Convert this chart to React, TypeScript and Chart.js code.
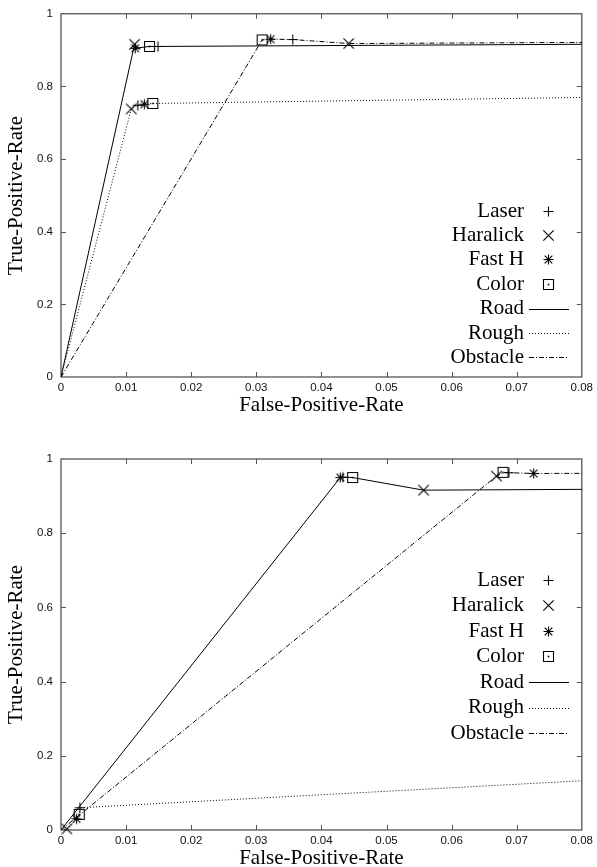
import React, { useEffect, useRef } from 'react';
import { Chart, registerables } from 'chart.js';

Chart.register(...registerables);

// ---- data ----
const detectors = ['Laser', 'Haralick', 'Fast H', 'Color'];
const terrains = ['Road', 'Rough', 'Obstacle'];
const rocStart = { x: 0, y: 0 };
const rocEnd = { x: 1, y: 1 };
const xTickLabels = ['0', '0.01', '0.02', '0.03', '0.04', '0.05', '0.06', '0.07', '0.08'];
const yTickLabels = ['0', '0.2', '0.4', '0.6', '0.8', '1'];

// Upper chart: values per detector (Laser, Haralick, Fast H, Color)
const topRoadFPR = [0.0149, 0.0113, 0.0114, 0.0136];
const topRoadTPR = [0.91, 0.916, 0.905, 0.91];
const topRoughFPR = [0.0118, 0.0108, 0.0128, 0.0141];
const topRoughTPR = [0.748, 0.738, 0.751, 0.753];
const topObstacleFPR = [0.0356, 0.0442, 0.0322, 0.0309];
const topObstacleTPR = [0.929, 0.918, 0.93, 0.928];

// Lower chart
const botRoadFPR = [0.0433, 0.0557, 0.0429, 0.0448];
const botRoadTPR = [0.951, 0.916, 0.95, 0.95];
const botRoughFPR = [0.0029, 0.0009, 0.0024, 0.0028];
const botRoughTPR = [0.06, 0.003, 0.03, 0.042];
const botObstacleFPR = [0.0688, 0.0669, 0.0726, 0.0679];
const botObstacleTPR = [0.963, 0.954, 0.961, 0.964];

const SERIF = '"Liberation Serif", "Times New Roman", serif';
const SANS = '"Liberation Sans", Arial, sans-serif';

function makeMarker(kind: string): HTMLCanvasElement {
  const c = document.createElement('canvas');
  c.width = 15;
  c.height = 15;
  const g = c.getContext('2d')!;
  const m = 7.5;
  g.strokeStyle = '#000';
  g.fillStyle = '#000';
  g.lineWidth = 1.1;
  g.beginPath();
  if (kind === 'plus') {
    g.moveTo(m - 5, m); g.lineTo(m + 5, m);
    g.moveTo(m, m - 5); g.lineTo(m, m + 5);
  } else if (kind === 'x') {
    const d = 5.2;
    g.moveTo(m - d, m - d); g.lineTo(m + d, m + d);
    g.moveTo(m - d, m + d); g.lineTo(m + d, m - d);
  } else if (kind === 'star') {
    const d = 3.8;
    g.moveTo(m - 5, m); g.lineTo(m + 5, m);
    g.moveTo(m, m - 5); g.lineTo(m, m + 5);
    g.moveTo(m - d, m - d); g.lineTo(m + d, m + d);
    g.moveTo(m - d, m + d); g.lineTo(m + d, m - d);
  } else {
    g.rect(m - 5, m - 5, 10, 10);
    g.fillRect(m - 0.8, m - 0.8, 1.6, 1.6);
  }
  g.stroke();
  return c;
}

const framePlugin = {
  id: 'frame',
  beforeDatasetsDraw(chart: any) {
    const { ctx, chartArea: a, scales } = chart;
    ctx.save();
    ctx.strokeStyle = '#555';
    ctx.lineWidth = 1;
    ctx.beginPath();
    const xs = scales.x;
    const ys = scales.y;
    xs.ticks.forEach((t: any) => {
      if (t.value <= xs.min + 1e-9 || t.value >= xs.max - 1e-9) return;
      const px = Math.round(xs.getPixelForValue(t.value)) + 0.5;
      ctx.moveTo(px, a.bottom); ctx.lineTo(px, a.bottom - 5);
      ctx.moveTo(px, a.top); ctx.lineTo(px, a.top + 5);
    });
    ys.ticks.forEach((t: any) => {
      if (t.value <= ys.min + 1e-9 || t.value >= ys.max - 1e-9) return;
      const py = Math.round(ys.getPixelForValue(t.value)) + 0.5;
      ctx.moveTo(a.left, py); ctx.lineTo(a.left + 5, py);
      ctx.moveTo(a.right, py); ctx.lineTo(a.right - 5, py);
    });
    ctx.stroke();
    ctx.lineWidth = 1.3;
    ctx.strokeStyle = '#555';
    ctx.strokeRect(a.left, a.top, a.right - a.left, a.bottom - a.top);
    ctx.restore();
  },
};

const legendPlugin = {
  id: 'rocLegend',
  afterDraw(chart: any, _args: any, opts: any) {
    const ctx = chart.ctx;
    ctx.save();
    ctx.font = '21px ' + SERIF;
    ctx.textAlign = 'right';
    ctx.textBaseline = 'middle';
    chart.data.datasets.forEach((ds: any, i: number) => {
      const y = opts.top + i * opts.step;
      ctx.fillStyle = '#000';
      ctx.fillText(ds.label, opts.textRight, y);
      if (ds.showLine) {
        ctx.beginPath();
        ctx.setLineDash(ds.borderDash || []);
        ctx.strokeStyle = '#000';
        ctx.lineWidth = 1;
        ctx.moveTo(opts.sampleLeft, Math.round(y) + 0.5);
        ctx.lineTo(opts.sampleRight, Math.round(y) + 0.5);
        ctx.stroke();
        ctx.setLineDash([]);
      } else {
        const img = ds.pointStyle as HTMLCanvasElement;
        ctx.drawImage(img, Math.round(opts.markerX - img.width / 2), Math.round(y - img.height / 2));
      }
    });
    ctx.restore();
  },
};

const dashes: number[][] = [[], [1, 2], [5, 2, 1, 2]];

function buildConfig(fpr: number[][], tpr: number[][], padTop: number, legend: any, markers: HTMLCanvasElement[]) {
  const markerSets = detectors.map((name, d) => ({
    label: name,
    data: terrains.map((_, t) => ({ x: fpr[t][d], y: tpr[t][d] })),
    showLine: false,
    pointStyle: markers[d],
    pointRadius: 6,
    borderColor: '#000',
    backgroundColor: '#000',
    clip: false as any,
  }));
  const lineSets = terrains.map((name, t) => {
    const pts = detectors
      .map((_, d) => ({ x: fpr[t][d], y: tpr[t][d] }))
      .sort((a, b) => a.x - b.x || a.y - b.y);
    return {
      label: name,
      data: [rocStart, ...pts, rocEnd],
      showLine: true,
      pointRadius: 0,
      borderColor: '#000',
      backgroundColor: '#000',
      borderWidth: 1,
      borderDash: dashes[t],
    };
  });
  return {
    type: 'scatter' as const,
    data: { datasets: [...markerSets, ...lineSets] },
    options: {
      animation: false as const,
      responsive: false,
      devicePixelRatio: 1,
      events: [],
      layout: { padding: { top: padTop, right: 13, left: 0, bottom: 0 } },
      plugins: {
        legend: { display: false },
        tooltip: { enabled: false },
        rocLegend: legend,
      },
      scales: {
        x: {
          type: 'linear' as const,
          min: 0,
          max: 0.08,
          afterFit: (s: any) => { s.height = 41; },
          grid: { display: false, drawTicks: false },
          border: { display: false },
          ticks: {
            stepSize: 0.01,
            padding: 4,
            color: '#111',
            font: { family: SANS, size: 11.5 },
            callback: (v: any) => {
              const i = Math.round(Number(v) / 0.01);
              return xTickLabels[i] ?? '';
            },
          },
          title: {
            display: true,
            text: 'False-Positive-Rate',
            color: '#000',
            font: { family: SERIF, size: 21 },
            padding: { top: 0, bottom: 0 },
          },
        },
        y: {
          type: 'linear' as const,
          min: 0,
          max: 1,
          afterFit: (s: any) => { s.width = 61; },
          grid: { display: false, drawTicks: false },
          border: { display: false },
          ticks: {
            stepSize: 0.2,
            padding: 8,
            color: '#111',
            font: { family: SANS, size: 11.5, lineHeight: 1 },
            callback: (v: any) => {
              const i = Math.round(Number(v) / 0.2);
              return yTickLabels[i] ?? '';
            },
          },
          title: {
            display: true,
            text: 'True-Positive-Rate',
            color: '#000',
            font: { family: SERIF, size: 21 },
            padding: { top: 4, bottom: 0 },
          },
        },
      },
    },
    plugins: [framePlugin, legendPlugin],
  };
}

function RocChart(props: { fpr: number[][]; tpr: number[][]; height: number; padTop: number; legend: any }) {
  const ref = useRef<HTMLCanvasElement>(null);
  useEffect(() => {
    const markers = ['plus', 'x', 'star', 'square'].map(makeMarker);
    const cfg: any = buildConfig(props.fpr, props.tpr, props.padTop, props.legend, markers);
    const chart = new Chart(ref.current!, cfg);
    return () => chart.destroy();
  }, []);
  return <canvas ref={ref} width={597} height={props.height} style={{ display: 'block' }} />;
}

export default function App() {
  const topFPR = [topRoadFPR, topRoughFPR, topObstacleFPR];
  const topTPR = [topRoadTPR, topRoughTPR, topObstacleTPR];
  const botFPR = [botRoadFPR, botRoughFPR, botObstacleFPR];
  const botTPR = [botRoadTPR, botRoughTPR, botObstacleTPR];
  const legendBase = { textRight: 524, sampleLeft: 529, sampleRight: 569, markerX: 548 };
  return (
    <div style={{ position: 'fixed', left: 0, top: 0, width: 597, height: 867, overflow: 'hidden', background: '#fff' }}>
      <div style={{ position: 'absolute', left: 0, top: 0 }}>
        <RocChart fpr={topFPR} tpr={topTPR} height={418} padTop={7} legend={{ ...legendBase, top: 211, step: 24.4 }} />
      </div>
      <div style={{ position: 'absolute', left: 0, top: 430 }}>
        <RocChart fpr={botFPR} tpr={botTPR} height={441} padTop={29} legend={{ ...legendBase, top: 150, step: 25.5 }} />
      </div>
    </div>
  );
}
